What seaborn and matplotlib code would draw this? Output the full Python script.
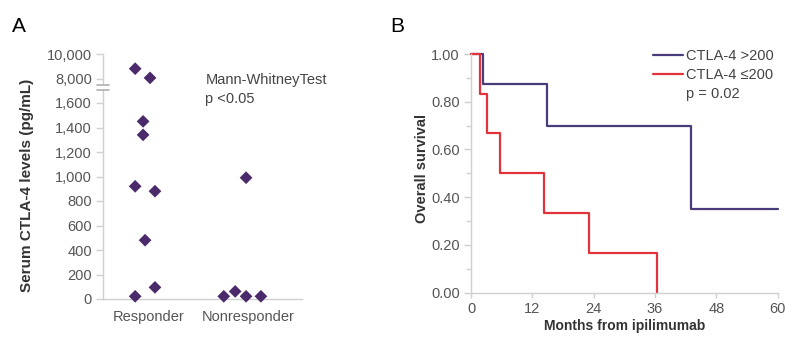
import numpy as np
import pandas as pd
import matplotlib
matplotlib.use("Agg")
import matplotlib.pyplot as plt
import matplotlib.transforms as mtransforms
from matplotlib.lines import Line2D
import seaborn as sns

# ---------------- Data ----------------
# Panel A
groups = ["Responder", "Nonresponder"]
responder_vals = [8800, 8050, 1450, 1340, 920, 880, 480, 95, 22]
responder_jitter = [-0.14, 0.01, -0.06, -0.06, -0.14, 0.06, -0.04, 0.06, -0.14]
nonresponder_vals = [990, 22, 62, 22, 22]
nonresponder_jitter = [-0.02, -0.245, -0.13, -0.02, 0.13]
ytick_vals = [0, 200, 400, 600, 800, 1000, 1200, 1400, 1600, 8000, 10000]
ytick_labels = ["0", "200", "400", "600", "800", "1,000", "1,200", "1,400", "1,600", "8,000", "10,000"]

# Panel B (Kaplan-Meier step values)
hi_months = [0, 2.3, 14.8, 43.1, 60]
hi_surv = [1.0, 0.875, 0.70, 0.35, 0.35]
lo_months = [0, 1.8, 3.1, 5.7, 14.2, 23.1, 36.3]
lo_surv = [1.0, 0.833, 0.667, 0.50, 0.333, 0.167, 0.0]
series_names = ["CTLA-4 >200", "CTLA-4 \u2264200"]
xticks_b = [0, 12, 24, 36, 48, 60]
yticks_b = [0.0, 0.2, 0.4, 0.6, 0.8, 1.0]

# ---------------- Style ----------------
sns.set_theme(style="white")
plt.rcParams["font.family"] = ["Liberation Sans", "DejaVu Sans"]

purple = "#4b2a6c"
line_purple = "#4a3c78"
red = "#e2323c"
spine_c = "#d0d0d0"
tick_txt = "#555555"
label_txt = "#333333"

fig = plt.figure(figsize=(7.97, 3.43), dpi=100)

# ---------------- Panel A ----------------
axA = fig.add_axes([103 / 797, 1 - 299 / 343, 199 / 797, 245 / 343])


def fwd(v):
    v = np.asarray(v, dtype=float)
    return np.where(v <= 1600, v / 200.0,
                    np.where(v <= 8000, 8 + (v - 1600) / 6400.0, 9 + (v - 8000) / 2000.0))


def inv(p):
    p = np.asarray(p, dtype=float)
    return np.where(p <= 8, p * 200.0,
                    np.where(p <= 9, 1600 + (p - 8) * 6400.0, 8000 + (p - 9) * 2000.0))


axA.set_yscale("function", functions=(fwd, inv))

dfA = pd.DataFrame({
    "group": [groups[0]] * len(responder_vals) + [groups[1]] * len(nonresponder_vals),
    "value": responder_vals + nonresponder_vals,
    "jit": responder_jitter + nonresponder_jitter,
})
dfA["xpos"] = dfA["group"].map({g: i for i, g in enumerate(groups)}) + dfA["jit"]

sns.scatterplot(data=dfA, x="xpos", y="value", marker="D", s=42, color=purple,
                edgecolor="none", linewidth=0, ax=axA, clip_on=False, zorder=5, legend=False)

axA.set_xlim(-0.465, 1.545)
axA.set_ylim(0, 10000)
axA.set_yticks(ytick_vals)
axA.set_yticklabels(ytick_labels)
axA.yaxis.set_minor_locator(matplotlib.ticker.NullLocator())
axA.set_xticks(range(len(groups)))
axA.set_xticklabels(groups)
axA.set_xlabel("")
axA.set_ylabel("Serum CTLA-4 levels (pg/mL)", fontsize=11, color=label_txt,
               fontweight="bold")
axA.yaxis.set_label_coords(-0.345, 0.465)
for s in ["top", "right"]:
    axA.spines[s].set_visible(False)
for s in ["left", "bottom"]:
    axA.spines[s].set_color(spine_c)
    axA.spines[s].set_linewidth(1.0)
axA.tick_params(axis="y", which="major", length=5, width=1, color=spine_c,
                labelsize=10.5, labelcolor=tick_txt, pad=3, left=True)
axA.tick_params(axis="x", length=0, labelsize=10.5, labelcolor=tick_txt, pad=8)

# axis break marks
bt = mtransforms.blended_transform_factory(axA.transAxes, axA.transData)
b1, b2 = 8.55, 8.72
gap_lo, gap_hi = float(inv(b1)), float(inv(b2))
axA.fill_between([-0.01, 0.01], [gap_lo, gap_lo], [gap_hi, gap_hi], color="white",
                 transform=bt, clip_on=False, zorder=6, linewidth=0)
for pos in (b1, b2):
    yv = float(inv(pos))
    axA.plot([-0.03, 0.03], [yv, yv], color="#b0b0b0", lw=1.2, transform=bt,
             clip_on=False, zorder=7)

axA.text(0.515, float(inv(8.95)), "Mann-WhitneyTest", transform=bt, fontsize=10.5,
         color="#444444", va="center", ha="left")
axA.text(0.515, float(inv(8.18)), "p <0.05", transform=bt, fontsize=10.5,
         color="#444444", va="center", ha="left")

fig.text(12 / 797, 1 - 26 / 343, "A", fontsize=15, color="black", va="center", ha="left")

# ---------------- Panel B ----------------
axB = fig.add_axes([471 / 797, 1 - 292.7 / 343, 306.7 / 797, 238.7 / 343])

dfB = pd.concat([
    pd.DataFrame({"months": hi_months, "surv": hi_surv, "series": series_names[0]}),
    pd.DataFrame({"months": lo_months, "surv": lo_surv, "series": series_names[1]}),
], ignore_index=True)

sns.lineplot(data=dfB, x="months", y="surv", hue="series",
             palette={series_names[0]: line_purple, series_names[1]: red},
             drawstyle="steps-post", estimator=None, linewidth=1.6, ax=axB,
             legend=True, clip_on=False)

axB.set_xlim(0, 60)
axB.set_ylim(0, 1)
axB.set_xticks(xticks_b)
axB.set_yticks(yticks_b)
axB.set_yticklabels([f"{v:.2f}" for v in yticks_b])
axB.yaxis.set_minor_locator(matplotlib.ticker.MultipleLocator(0.1))
axB.set_xlabel("Months from ipilimumab", fontsize=10, color=label_txt,
               fontweight="bold", labelpad=2)
axB.set_ylabel("Overall survival", fontsize=10.5, color=label_txt,
               fontweight="bold")
axB.yaxis.set_label_coords(-0.136, 0.52)
for s in ["top", "right"]:
    axB.spines[s].set_visible(False)
for s in ["left", "bottom"]:
    axB.spines[s].set_color(spine_c)
    axB.spines[s].set_linewidth(1.0)
axB.tick_params(axis="y", which="major", length=5, width=1, color=spine_c,
                labelsize=10.5, labelcolor=tick_txt, pad=3, left=True)
axB.tick_params(axis="y", which="minor", length=3.5, width=1, color=spine_c, left=True)
axB.tick_params(axis="x", which="major", length=3.5, width=1, color=spine_c,
                labelsize=10.5, labelcolor=tick_txt, pad=3, bottom=True)

# legend with p-value as extra entry
handles, labels = axB.get_legend_handles_labels()
handles = list(handles) + [Line2D([], [], color="none")]
labels = list(labels) + ["p = 0.02"]
leg = axB.legend(handles, labels, loc="upper right", bbox_to_anchor=(1.005, 1.045),
                 frameon=False, fontsize=10.5, handlelength=2.1, handletextpad=0.15,
                 labelspacing=0.35, borderaxespad=0)
for t in leg.get_texts():
    t.set_color("#444444")

fig.text(390 / 797, 1 - 26 / 343, "B", fontsize=15, color="black", va="center", ha="left")

fig.savefig("out.png", dpi=100)
